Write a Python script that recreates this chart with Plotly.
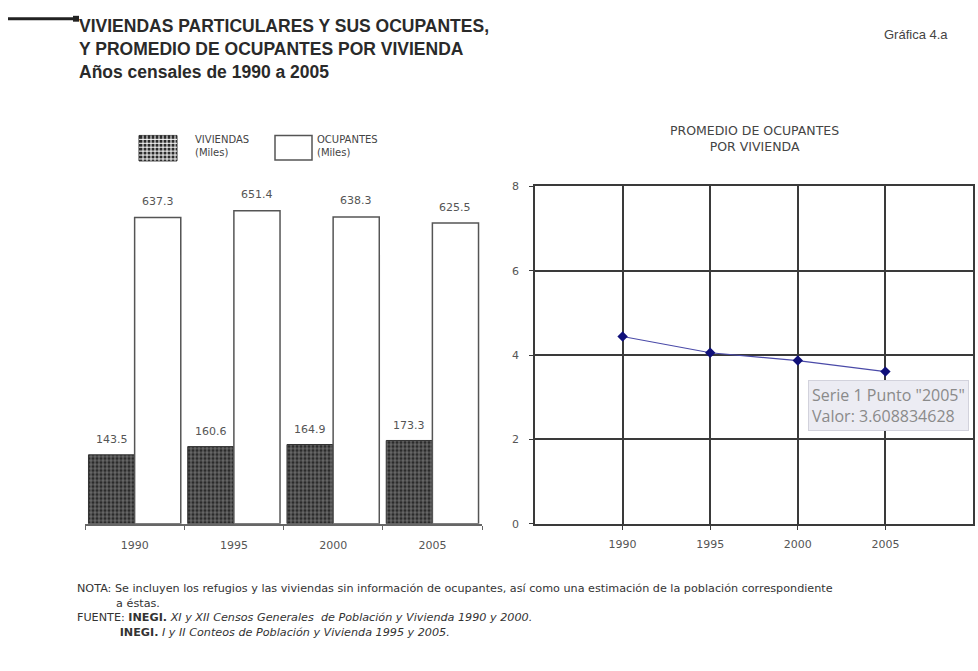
import plotly.graph_objects as go

# Census years and values (thousands)
years = ["1990", "1995", "2000", "2005"]
viviendas = [143.5, 160.6, 164.9, 173.3]
ocupantes = [637.3, 651.4, 638.3, 625.5]
# Average occupants per dwelling
anios = [1990, 1995, 2000, 2005]
promedio = [4.441, 4.056, 3.871, 3.608834628]

W, H = 978, 671


def px(x):
    return x / W


def py(y):
    return 1 - y / H


GREY = "#444444"
LBL = "#555555"
SANS = "Liberation Sans, Arial, sans-serif"
WIDE = "DejaVu Sans, Verdana, sans-serif"
NB = "\u00a0"

fig = go.Figure()

# Left panel: dwellings and occupants
fig.add_trace(go.Bar(
    x=years, y=viviendas, name="VIVIENDAS (Miles)",
    marker=dict(color="#2b2b2b", line=dict(color="#333333", width=1),
                pattern=dict(shape="+", fgcolor="#ffffff", bgcolor="#2b2b2b",
                             size=4, solidity=0.3)),
    xaxis="x", yaxis="y", showlegend=False, hoverinfo="skip"))
fig.add_trace(go.Bar(
    x=years, y=ocupantes, name="OCUPANTES (Miles)",
    marker=dict(color="#ffffff", line=dict(color="#555555", width=1.5)),
    xaxis="x", yaxis="y", showlegend=False, hoverinfo="skip"))

annotations = []
for i, v in enumerate(viviendas):
    annotations.append(dict(x=i, y=v, xref="x", yref="y", text=f"{v:.1f}",
                            showarrow=False, xshift=-23, yshift=15,
                            xanchor="center", yanchor="middle",
                            font=dict(size=11, color=LBL, family=WIDE)))
for i, v in enumerate(ocupantes):
    annotations.append(dict(x=i, y=v, xref="x", yref="y", text=f"{v:.1f}",
                            showarrow=False, xshift=23, yshift=16,
                            xanchor="center", yanchor="middle",
                            font=dict(size=11, color=LBL, family=WIDE)))

# Right panel: average occupants per dwelling
fig.add_trace(go.Scatter(
    x=anios, y=promedio, mode="lines+markers", name="Serie 1",
    line=dict(color="#4a4aa8", width=1.2),
    marker=dict(symbol="diamond", size=8, color="#10107a"),
    xaxis="x2", yaxis="y2", showlegend=False))

annotations.append(dict(
    x=anios[-1], y=promedio[-1], xref="x2", yref="y2",
    text=f"Serie 1 Punto \"{anios[-1]}\"<br>Valor: {promedio[-1]:.9f}",
    showarrow=False, xanchor="left", yanchor="top", align="left",
    xshift=-77, yshift=-8, bgcolor="#ececf3", bordercolor="#d2d2dc",
    borderwidth=1, borderpad=3,
    font=dict(size=16, color="#8a8a8a", family="Open Sans")))

annotations.append(dict(
    x=px(754), y=py(135), xref="paper", yref="paper",
    xanchor="center", yanchor="middle",
    text="PROMEDIO DE OCUPANTES<br>POR VIVIENDA", showarrow=False,
    font=dict(size=12.5, color=GREY, family=WIDE)))

# Titles
annotations.append(dict(
    x=px(77), y=py(8), xref="paper", yref="paper", xanchor="left", yanchor="top",
    align="left", showarrow=False,
    text="<b>VIVIENDAS PARTICULARES Y SUS OCUPANTES,<br>"
         "Y PROMEDIO DE OCUPANTES POR VIVIENDA<br>Años censales de 1990 a 2005</b>",
    font=dict(size=17.5, color="#2a2a2a", family=SANS)))
annotations.append(dict(
    x=px(950), y=py(29), xref="paper", yref="paper",
    xanchor="right", yanchor="middle",
    showarrow=False, text="Gráfica 4.a",
    font=dict(size=13, color=GREY, family=SANS)))

# Legend text
annotations.append(dict(
    x=px(193), y=py(143), xref="paper", yref="paper",
    xanchor="left", yanchor="middle",
    align="left", showarrow=False, text="VIVIENDAS<br>(Miles)",
    font=dict(size=10, color=GREY, family=WIDE)))
annotations.append(dict(
    x=px(315), y=py(143), xref="paper", yref="paper",
    xanchor="left", yanchor="middle",
    align="left", showarrow=False, text="OCUPANTES<br>(Miles)",
    font=dict(size=10, color=GREY, family=WIDE)))

# Notes block
nota = ("NOTA: Se incluyen los refugios y las viviendas sin información de ocupantes, "
        "así como una estimación de la población correspondiente")
nota2 = NB * 11 + "a éstas."
fuente = ("FUENTE: <b>INEGI.</b> <i>XI y XII Censos Generales  de Población y "
          "Vivienda 1990 y 2000.</i>")
fuente2 = NB * 12 + "<b>INEGI.</b> <i>I y II Conteos de Población y Vivienda 1995 y 2005.</i>"
annotations.append(dict(
    x=px(76), y=py(586), xref="paper", yref="paper",
    xanchor="left", yanchor="top", align="left", borderpad=0,
    showarrow=False, font=dict(size=11.2, color="#333333", family=WIDE),
    text="<br>".join([nota, nota2, fuente, fuente2])))

shapes = []
# Top-left rule
shapes.append(dict(type="line", xref="paper", yref="paper",
                   x0=px(8), x1=px(76), y0=py(13), y1=py(13),
                   line=dict(color="#222222", width=3)))
shapes.append(dict(type="rect", xref="paper", yref="paper",
                   x0=px(73), x1=px(79), y0=py(10), y1=py(16),
                   fillcolor="#222222", line=dict(width=0)))
# Legend swatches
lx0, lx1, ly0, ly1 = 139, 177, 132, 158
shapes.append(dict(type="rect", xref="paper", yref="paper",
                   x0=px(lx0), x1=px(lx1), y0=py(ly1), y1=py(ly0),
                   fillcolor="#2b2b2b", line=dict(color="#333333", width=1)))
grid = ""
gx = lx0 + 4
while gx < lx1:
    grid += f"M{px(gx)},{py(ly0)} L{px(gx)},{py(ly1)} "
    gx += 4
gy = ly0 + 4
while gy < ly1:
    grid += f"M{px(lx0)},{py(gy)} L{px(lx1)},{py(gy)} "
    gy += 4
shapes.append(dict(type="path", xref="paper", yref="paper", path=grid,
                   line=dict(color="#ffffff", width=1)))
shapes.append(dict(type="rect", xref="paper", yref="paper",
                   x0=px(275), x1=px(312), y0=py(157), y1=py(132),
                   fillcolor="#ffffff", line=dict(color="#555555", width=1.5)))

tick_font = dict(size=11, color=LBL, family=WIDE)

fig.update_layout(
    width=W, height=H,
    margin=dict(l=0, r=0, t=0, b=0),
    paper_bgcolor="#ffffff", plot_bgcolor="rgba(0,0,0,0)",
    barmode="group", bargap=0.07, bargroupgap=0,
    xaxis=dict(domain=[px(85), px(482)], type="category", range=[-0.5, 3.5],
               showline=True, linecolor="#666666", linewidth=1.5,
               ticks="outside", tickson="boundaries", ticklen=4,
               tickcolor="#666666", showgrid=False, tickfont=tick_font,
               ticklabelstandoff=10, fixedrange=True),
    yaxis=dict(domain=[py(528), py(180)], range=[0, 710], visible=False,
               fixedrange=True),
    xaxis2=dict(domain=[px(535), px(973)], range=[1985, 2010],
                tickvals=anios, ticktext=[str(a) for a in anios],
                showline=True, mirror=True, linecolor="#3a3a3a", linewidth=1.5,
                showgrid=True, gridcolor="#3a3a3a", gridwidth=1.5,
                ticks="outside", ticklen=4, tickcolor="#3a3a3a",
                tickfont=tick_font, ticklabelstandoff=5,
                anchor="y2", zeroline=False),
    yaxis2=dict(domain=[py(528), py(184)], range=[0, 8], dtick=2,
                showline=True, mirror=True, linecolor="#3a3a3a", linewidth=1.5,
                showgrid=True, gridcolor="#3a3a3a", gridwidth=1.5,
                ticks="outside", ticklen=4, tickcolor="#3a3a3a",
                tickfont=tick_font, ticklabelstandoff=8,
                anchor="x2", zeroline=False),
    annotations=annotations,
    shapes=shapes,
)

# Page without body margin so the figure fills the window exactly
fig.write_html("out.html",
               post_script="document.body.style.margin='0';"
                           "document.body.style.overflow='hidden';")
